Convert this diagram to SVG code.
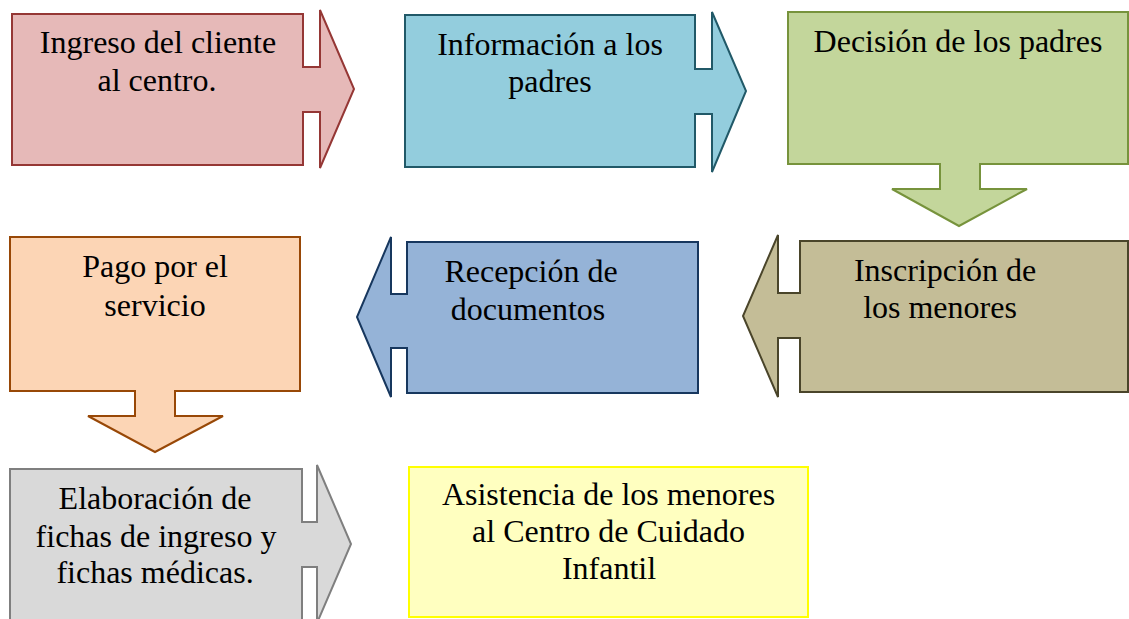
<svg xmlns="http://www.w3.org/2000/svg" width="1129" height="619" viewBox="0 0 1129 619">
<style>
.s{stroke-width:2;stroke-linejoin:miter}
text{font-family:"Liberation Serif","Times New Roman",serif;font-size:32px;fill:#000;text-anchor:middle}
</style>
<rect width="1129" height="619" fill="#fff"/>
<g id="n1"><path class="s" fill="#E6B9B8" stroke="#953735" d="M12,14 L303,14 L303,67 L320,67 L320,10 L354,89 L320,168 L320,112 L303,112 L303,165 L12,165 Z"/>
<text x="158" y="53">Ingreso del cliente</text><text x="157" y="91">al centro.</text></g>
<g id="n2"><path class="s" fill="#93CDDD" stroke="#215968" d="M405,15 L695,15 L695,69 L712,69 L712,12 L746,91 L712,172 L712,114 L695,114 L695,167 L405,167 Z"/>
<text x="550" y="55">Información a los</text><text x="550" y="92">padres</text></g>
<g id="n3"><path class="s" fill="#C3D69B" stroke="#77933C" d="M788,12 L1128,12 L1128,164 L980,164 L980,189 L1027,189 L959,226 L892,189 L940,189 L940,164 L788,164 Z"/>
<text x="958" y="52">Decisión de los padres</text></g>
<g id="n4"><path class="s" fill="#FCD5B5" stroke="#984807" d="M10,237 L300,237 L300,391 L175,391 L175,416 L223,416 L155,452 L88,416 L135,416 L135,391 L10,391 Z"/>
<text x="155" y="277">Pago por el</text><text x="155" y="316">servicio</text></g>
<g id="n5"><path class="s" fill="#95B3D7" stroke="#17375E" d="M698,242 L698,393 L407,393 L407,348 L391,348 L391,397 L357,317 L391,237 L391,294 L407,294 L407,242 Z"/>
<text x="531" y="282">Recepción de</text><text x="528" y="320">documentos</text></g>
<g id="n6"><path class="s" fill="#C4BD97" stroke="#4A452A" d="M1128,241 L1128,392 L800,392 L800,338 L778,338 L778,397 L743,316 L778,235 L778,293 L800,293 L800,241 Z"/>
<text x="945" y="281">Inscripción de</text><text x="940" y="318">los menores</text></g>
<g id="n7"><path class="s" fill="#D9D9D9" stroke="#7F7F7F" d="M10,469 L302,469 L302,522 L317,522 L317,465 L351,544 L317,623 L317,567 L302,567 L302,625 L10,625 Z"/>
<text x="155" y="509">Elaboración de</text><text x="156" y="547">fichas de ingreso y</text><text x="155" y="583">fichas médicas.</text></g>
<g id="n8"><rect class="s" x="409" y="467" width="399" height="150" fill="#FFFFC0" stroke="#FFFF00"/>
<text x="608.5" y="505">Asistencia de los menores</text><text x="608.5" y="542">al Centro de Cuidado</text><text x="609" y="579">Infantil</text></g>
<g id="connectors"></g>
</svg>
